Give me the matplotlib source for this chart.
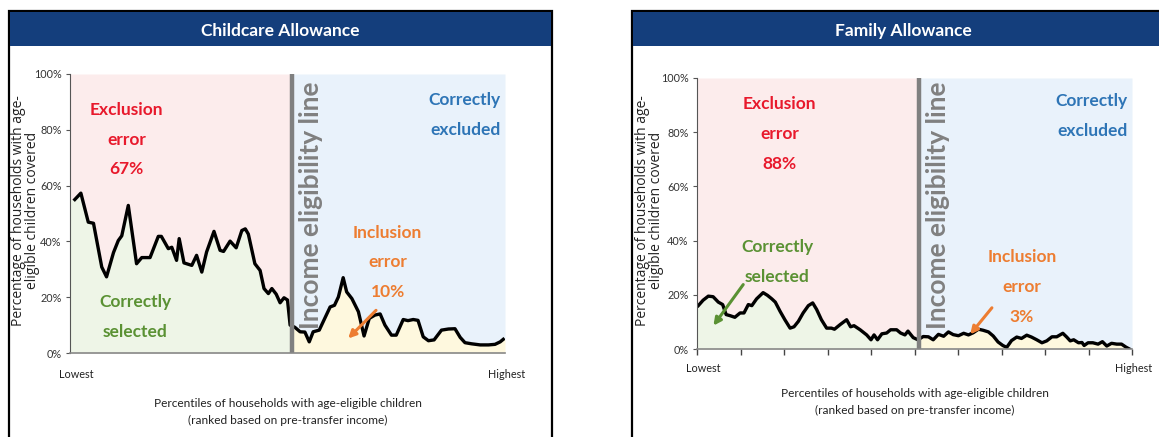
import numpy as np
import matplotlib
matplotlib.use("Agg")
import matplotlib.pyplot as plt
from matplotlib.patches import Rectangle

plt.rcParams["font.family"] = ["Lato", "DejaVu Sans"]

W, H = 1159, 437

# ----------------------------------------------------
# Data (percentile, coverage %)
# ----------------------------------------------------

childcare_pct = [1.1, 2.5, 4.2, 5.4, 7.3, 8.4, 10.0, 11.1, 11.9, 13.4, 15.3, 16.5, 18.4,
                 20.3, 21.0, 22.6, 23.4, 24.5, 25.1, 26.2, 28.0, 29.1, 30.3, 31.4, 33.1,
                 34.5, 35.3, 36.8, 38.2, 39.5, 40.3, 41.0, 42.5, 43.7, 44.6, 45.6, 46.4,
                 47.4, 48.3, 49.2, 50.0, 50.6, 51.7, 52.9, 54.0, 55.0, 55.9, 57.3, 58.2,
                 59.8, 60.8, 61.7, 62.8, 63.6, 64.8, 66.3, 67.6, 68.8, 70.1, 71.3, 72.4,
                 73.9, 75.0, 76.6, 77.7, 78.9, 80.0, 81.2, 82.4, 83.7, 85.4, 87.0, 88.5,
                 89.7, 90.8, 92.3, 94.3, 96.2, 97.7, 98.9, 99.6]
childcare_cov = [55.0, 57.3, 46.9, 46.5, 30.8, 27.3, 36.0, 40.3, 42.0, 52.9, 32.0, 34.2, 34.2,
                 41.8, 41.8, 37.4, 37.9, 33.2, 41.0, 32.3, 31.4, 35.0, 29.0, 36.2, 43.6,
                 36.8, 36.4, 40.1, 37.7, 43.9, 44.5, 42.6, 32.0, 29.6, 23.1, 21.3, 23.1,
                 21.1, 18.0, 19.8, 19.0, 10.0, 9.2, 7.6, 7.5, 4.0, 7.6, 8.2, 11.2,
                 16.5, 17.1, 20.1, 27.0, 21.9, 19.5, 14.8, 6.1, 12.4, 13.6, 14.0, 10.0,
                 6.4, 6.4, 12.0, 11.6, 12.0, 11.7, 5.8, 4.4, 4.7, 8.2, 8.6, 8.7,
                 5.6, 3.7, 3.3, 2.9, 2.9, 3.1, 4.0, 4.9]

family_pct = [0.3, 1.4, 2.6, 3.7, 4.9, 5.9, 6.7, 7.6, 8.7, 9.9, 10.8, 11.8, 12.6, 13.7,
              15.2, 16.2, 17.2, 18.0, 19.1, 20.2, 21.4, 22.3, 23.3, 24.4, 25.6, 26.6,
              27.5, 28.6, 29.8, 30.9, 31.6, 32.9, 34.4, 35.3, 36.1, 37.5, 39.0, 40.0,
              40.7, 41.5, 42.5, 43.6, 44.5, 45.9, 46.8, 47.8, 48.5, 49.7, 50.8, 52.0,
              53.2, 54.3, 55.5, 56.7, 57.8, 58.9, 60.1, 61.3, 62.4, 63.5, 64.7, 65.8,
              67.0, 68.1, 69.2, 70.3, 71.2, 72.3, 73.5, 74.6, 75.8, 76.9, 78.1, 79.3,
              80.4, 81.6, 82.7, 84.1, 85.0, 85.8, 86.6, 87.7, 88.5, 89.0, 89.9, 91.0,
              92.2, 93.2, 94.2, 95.3, 96.5, 97.6, 98.6, 99.4]
family_cov = [16.0, 18.0, 19.5, 19.3, 17.3, 16.4, 12.7, 12.3, 11.7, 13.3, 13.3, 16.4, 16.0, 18.5,
              20.8, 19.8, 18.5, 17.3, 13.9, 10.8, 7.7, 8.2, 10.2, 13.3, 16.0, 17.0,
              14.6, 10.8, 7.7, 7.7, 7.3, 9.0, 10.8, 8.2, 8.6, 7.1, 5.2, 3.4,
              5.2, 3.4, 5.6, 5.9, 7.1, 7.1, 5.9, 5.2, 6.6, 4.2, 3.4, 4.6,
              4.5, 3.4, 5.4, 4.7, 6.3, 5.3, 4.9, 5.8, 5.2, 6.0, 7.3, 6.9,
              6.3, 4.8, 2.6, 1.3, 0.6, 3.1, 4.4, 3.9, 5.1, 4.4, 3.4, 2.3,
              3.0, 4.5, 4.5, 5.8, 4.4, 3.0, 3.4, 2.3, 2.4, 1.3, 2.3, 2.3,
              1.8, 2.7, 1.1, 2.1, 1.8, 1.8, 0.7, 0.0]

titles = ["Childcare Allowance", "Family Allowance"]
exclusion_err = ["67%", "88%"]
inclusion_err = ["10%", "3%"]
threshold = [51, 51]
yticks = [0, 20, 40, 60, 80, 100]

# colours
NAVY = "#143e7c"
RED = "#e8192c"
GREEN = "#5a9133"
BLUE = "#2e75b6"
ORANGE = "#ed7d31"
GREY = "#808080"

FS = 12.5   # annotation font size
LS = 2.05   # annotation line spacing


def fig_box(x0, y0, x1, y1):
    # pixel box (top-left origin) -> figure fraction rect
    return [x0 / W, 1 - y1 / H, (x1 - x0) / W, (y1 - y0) / H]


fig = plt.figure(figsize=(W / 100, H / 100), dpi=100)
fig.patch.set_facecolor("white")

# ----------------------------------------------------
# Panel frames and title bars
# ----------------------------------------------------

panels = [(9, 11, 552, 445), (632, 11, 1175, 445)]
for (x0, y0, x1, y1), title in zip(panels, titles):
    l, b, w, h = fig_box(x0, y0, x1, y1)
    fig.patches.append(Rectangle((l, b), w, h, transform=fig.transFigure,
                                 facecolor="white", edgecolor="black", linewidth=1.6,
                                 zorder=-2))
    l, b, w, h = fig_box(x0 + 1, y0 + 1, x1 - 1, y0 + 35)
    fig.patches.append(Rectangle((l, b), w, h, transform=fig.transFigure,
                                 facecolor=NAVY, edgecolor="none", zorder=-1))
    fig.text((x0 + x1) / 2 / W, 1 - (y0 + 20) / H, title, color="white",
             fontsize=12.5, fontweight="bold", ha="center", va="center")

# ----------------------------------------------------
# Axes
# ----------------------------------------------------

axes_boxes = [(70, 74, 505, 353), (697, 78, 1132, 349)]
datasets = [(childcare_pct, childcare_cov), (family_pct, family_cov)]
ylabel_px = [40, 664]   # anchor of the y axis title, in pixels

axes = []
for box, (pct, cov), thr, lpx in zip(axes_boxes, datasets, threshold, ylabel_px):
    ax = fig.add_axes(fig_box(*box))
    ax.patch.set_alpha(0)
    axes.append(ax)
    x = np.array(pct)
    y = np.array(cov)
    y_thr = np.interp(thr, x, y)

    xl = np.append(x[x <= thr], thr)
    yl = np.append(y[x <= thr], y_thr)
    xr = np.insert(x[x > thr], 0, thr)
    yr = np.insert(y[x > thr], 0, y_thr)
    xl = np.insert(xl, 0, 0)
    yl = np.insert(yl, 0, yl[0])
    xr = np.append(xr, 100)
    yr = np.append(yr, yr[-1])

    ax.fill_between(xl, yl, 100, color="#fcecec", lw=0)
    ax.fill_between(xl, 0, yl, color="#eef5e7", lw=0)
    ax.fill_between(xr, yr, 100, color="#e9f2fb", lw=0)
    ax.fill_between(xr, 0, yr, color="#fef8de", lw=0)

    ax.plot(x, y, color="black", lw=2.4, solid_joinstyle="round")
    ax.axvline(thr, color=GREY, lw=3.2)

    ax.set_xlim(0, 100)
    ax.set_ylim(0, 100)
    ax.set_yticks(yticks)
    ax.set_yticklabels([f"{t}%" for t in yticks], fontsize=7.8, color="#333333")
    ax.tick_params(axis="y", length=3, width=0.8, color="#555555", pad=3)
    for s in ["top", "right"]:
        ax.spines[s].set_visible(False)
    ax.spines["left"].set_color("#555555")
    ax.spines["bottom"].set_color("#888888")
    ax.spines["bottom"].set_linewidth(1.2)

    ax.text(thr + 1.6, 53, "Income eligibility line", rotation=90, color=GREY,
            fontsize=19, fontweight="bold", ha="left", va="center")
    ax.set_ylabel("Percentage of households with age-\neligible children covered",
                  fontsize=10, color="#222222", linespacing=0.92, family="Open Sans")
    ax.yaxis.set_label_coords((lpx - box[0]) / (box[2] - box[0]), 0.51)

# x ticks only on the second panel
axes[0].set_xticks([])
axes[1].set_xticks(np.arange(0, 101, 10))
axes[1].set_xticklabels([])
axes[1].tick_params(axis="x", length=4, width=1, color="#444444")

# ----------------------------------------------------
# Annotations
# ----------------------------------------------------

ax = axes[0]
ax.text(13, 76.5, "Exclusion\nerror\n" + exclusion_err[0], color=RED, fontsize=FS,
        fontweight="bold", ha="center", va="center", linespacing=LS)
ax.text(15, 13, "Correctly\nselected", color=GREEN, fontsize=FS,
        fontweight="bold", ha="center", va="center", linespacing=LS)
ax.text(99, 85.4, "Correctly\nexcluded", color=BLUE, fontsize=FS,
        fontweight="bold", ha="right", va="center", linespacing=LS)
ax.text(73, 32.5, "Inclusion\nerror\n" + inclusion_err[0], color=ORANGE, fontsize=FS,
        fontweight="bold", ha="center", va="center", linespacing=LS)
ax.annotate("", xy=(63.5, 4.5), xytext=(70.8, 16),
            arrowprops=dict(arrowstyle="-|>", color=ORANGE, lw=2.2, mutation_scale=11))

ax = axes[1]
ax.text(19, 79.3, "Exclusion\nerror\n" + exclusion_err[1], color=RED, fontsize=FS,
        fontweight="bold", ha="center", va="center", linespacing=LS)
ax.text(18.5, 32, "Correctly\nselected", color=GREEN, fontsize=FS,
        fontweight="bold", ha="center", va="center", linespacing=LS)
ax.annotate("", xy=(3.4, 7.8), xytext=(11, 24.6),
            arrowprops=dict(arrowstyle="-|>", color=GREEN, lw=2.2, mutation_scale=11))
ax.text(99, 86, "Correctly\nexcluded", color=BLUE, fontsize=FS,
        fontweight="bold", ha="right", va="center", linespacing=LS)
ax.text(74.7, 22.9, "Inclusion\nerror\n" + inclusion_err[1], color=ORANGE, fontsize=FS,
        fontweight="bold", ha="center", va="center", linespacing=LS)
ax.annotate("", xy=(62.4, 4.6), xytext=(68.2, 16),
            arrowprops=dict(arrowstyle="-|>", color=ORANGE, lw=2.2, mutation_scale=11))

# ends of the x axis and axis title
xlab = "Percentiles of households with age-eligible children\n(ranked based on pre-transfer income)"
end_y = [375, 368]
lab_y = [412, 402]
for (x0, y0, x1, y1), ey, ly in zip(axes_boxes, end_y, lab_y):
    fig.text((x0 + 6) / W, 1 - ey / H, "Lowest", fontsize=7.8, ha="center", va="center",
             color="#222222")
    fig.text((x1 + 2) / W, 1 - ey / H, "Highest", fontsize=7.8, ha="center", va="center",
             color="#222222")
    fig.text((x0 + x1) / 2 / W, 1 - ly / H, xlab, fontsize=8.6, ha="center", va="center",
             color="#222222", linespacing=1.75)

fig.savefig("out.png", dpi=100)
